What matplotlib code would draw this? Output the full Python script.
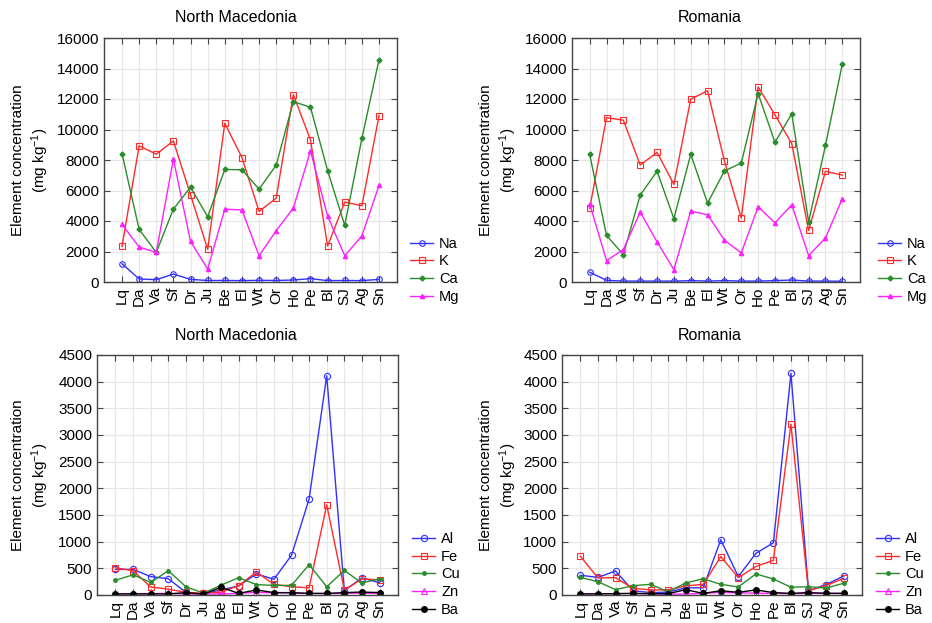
import matplotlib
matplotlib.use("Agg")
import matplotlib.pyplot as plt

plt.rcParams["font.family"] = ["Liberation Sans", "DejaVu Sans"]
plt.rcParams["mathtext.default"] = "regular"

sites = ["Lq", "Da", "Va", "Sf", "Dr", "Ju", "Be", "El", "Wt", "Or", "Ho", "Pe", "Bl", "SJ", "Ag", "Sn"]

# major elements, North Macedonia
mk_na = [1200, 200, 150, 520, 170, 100, 100, 90, 110, 100, 130, 220, 90, 100, 90, 170]
mk_k = [2330, 8930, 8380, 9250, 5720, 2140, 10410, 8160, 4630, 5500, 12290, 9320, 2360, 5240, 5000, 10910]
mk_ca = [8420, 3450, 1940, 4780, 6220, 4280, 7380, 7360, 6090, 7660, 11830, 11460, 7310, 3710, 9410, 14580]
mk_mg = [3780, 2290, 1940, 8060, 2660, 850, 4780, 4720, 1720, 3360, 4850, 8600, 4320, 1720, 3030, 6330]

# major elements, Romania
ro_na = [640, 110, 60, 60, 60, 60, 90, 60, 90, 60, 60, 90, 130, 60, 60, 50]
ro_k = [4820, 10780, 10610, 7670, 8500, 6400, 11990, 12540, 7930, 4190, 12800, 10960, 9070, 3380, 7260, 7010]
ro_ca = [8370, 3050, 1800, 5700, 7260, 4160, 8370, 5170, 7280, 7800, 12360, 9160, 11030, 3950, 8960, 14290]
ro_mg = [5130, 1400, 2130, 4580, 2630, 810, 4650, 4410, 2740, 1910, 4930, 3880, 5060, 1730, 2890, 5460]

# trace elements, North Macedonia
mk_al = [480, 480, 345, 305, 50, 20, 95, 170, 395, 295, 745, 1800, 4110, 80, 320, 230]
mk_fe = [510, 455, 150, 110, 50, 30, 55, 175, 430, 200, 155, 135, 1690, 95, 300, 285]
mk_cu = [275, 380, 235, 455, 155, 35, 185, 325, 195, 180, 180, 570, 155, 460, 225, 305]
mk_zn = [20, 25, 25, 30, 20, 15, 20, 30, 50, 40, 35, 30, 25, 30, 35, 30]
mk_ba = [20, 20, 20, 20, 45, 15, 145, 30, 95, 45, 45, 30, 30, 45, 55, 45]

# trace elements, Romania
ro_al = [370, 330, 450, 80, 45, 55, 135, 135, 1035, 345, 780, 980, 4155, 80, 195, 355]
ro_fe = [725, 320, 325, 125, 95, 95, 170, 200, 720, 325, 535, 650, 3200, 80, 175, 310]
ro_cu = [330, 250, 100, 175, 200, 60, 225, 305, 200, 150, 395, 300, 145, 155, 130, 220]
ro_zn = [20, 25, 25, 30, 20, 15, 20, 30, 50, 40, 35, 30, 25, 30, 35, 30]
ro_ba = [20, 20, 25, 30, 25, 25, 100, 30, 80, 50, 95, 45, 30, 45, 30, 30]

major_labels = ["Na", "K", "Ca", "Mg"]
trace_labels = ["Al", "Fe", "Cu", "Zn", "Ba"]

BLUE = "#3030ff"
RED = "#ff2a2a"
GREEN = "#2a8c2a"
MAG = "#ff20ff"
FS = 11

major_style = [
    dict(color=BLUE, marker="o", ms=4, mfc="none", mew=0.8),
    dict(color=RED, marker="s", ms=4.5, mfc="none", mew=0.8),
    dict(color=GREEN, marker="D", ms=2.5),
    dict(color=MAG, marker="^", ms=3),
]
trace_style = [
    dict(color=BLUE, marker="o", ms=4.5, mfc="none", mew=0.8),
    dict(color=RED, marker="s", ms=4.5, mfc="none", mew=0.8),
    dict(color=GREEN, marker="o", ms=2.5),
    dict(color=MAG, marker="^", ms=5, mfc="none", mew=0.8),
    dict(color="black", marker="o", ms=4),
]

fig = plt.figure(figsize=(9.32, 6.23), dpi=100)
W, H = 932, 623


def px_axes(l, t, r, b):
    return fig.add_axes([l / W, 1 - b / H, (r - l) / W, (b - t) / H])


def style_axes(ax, ymax, ystep):
    ax.set_xlim(-1.05, len(sites) - 1 + 1.05)
    ax.set_ylim(0, ymax)
    ax.set_yticks(range(0, ymax + 1, ystep))
    ax.set_xticks(range(len(sites)))
    ax.set_xticklabels(sites, rotation=90, fontsize=FS)
    ax.tick_params(axis="y", labelsize=FS)
    ax.tick_params(direction="in", top=True, right=True, length=4, color="#444444", width=0.8)
    ax.grid(True, color="#e6e6e6", lw=0.8)
    ax.set_axisbelow(True)
    for s in ax.spines.values():
        s.set_color("#444444")
        s.set_linewidth(1.0)


panels = [
    ((104, 38, 397, 282), [mk_na, mk_k, mk_ca, mk_mg], major_labels, major_style, 16000, 2000, -0.18, 0.44, 0.62),
    ((572, 38, 860, 282), [ro_na, ro_k, ro_ca, ro_mg], major_labels, major_style, 16000, 2000, -0.184, 0.942, 0.62),
    ((97, 355, 398, 595), [mk_al, mk_fe, mk_cu, mk_zn, mk_ba], trace_labels, trace_style, 4500, 500, -0.153, 0.442, 0.146),
    ((562, 355, 862, 595), [ro_al, ro_fe, ro_cu, ro_zn, ro_ba], trace_labels, trace_style, 4500, 500, -0.144, 0.94, 0.146),
]

for box, series, labels, styles, ymax, ystep, ylx, lx, ly in panels:
    ax = px_axes(*box)
    for vals, lab, st in zip(series, labels, styles):
        ax.plot(range(len(sites)), vals, lw=1.0, label=lab, **st)
    style_axes(ax, ymax, ystep)
    ax.set_ylabel("Element concentration\n(mg kg$^{-1}$)", fontsize=FS, linespacing=1.3)
    ax.yaxis.set_label_coords(ylx, 0.5)
    ax.legend(loc="upper left", bbox_to_anchor=(lx, ly), bbox_transform=fig.transFigure,
              frameon=False, fontsize=10.5, borderpad=0, borderaxespad=0,
              labelspacing=0.25, handlelength=1.6, handletextpad=0.4)

fig.text(236 / W, 1 - 18 / H, "North Macedonia", ha="center", va="center", fontsize=11.5)
fig.text(710 / W, 1 - 18 / H, "Romania", ha="center", va="center", fontsize=11.5)
fig.text(236 / W, 1 - 335 / H, "North Macedonia", ha="center", va="center", fontsize=11.5)
fig.text(710 / W, 1 - 335 / H, "Romania", ha="center", va="center", fontsize=11.5)

fig.savefig("out.png", dpi=100)
